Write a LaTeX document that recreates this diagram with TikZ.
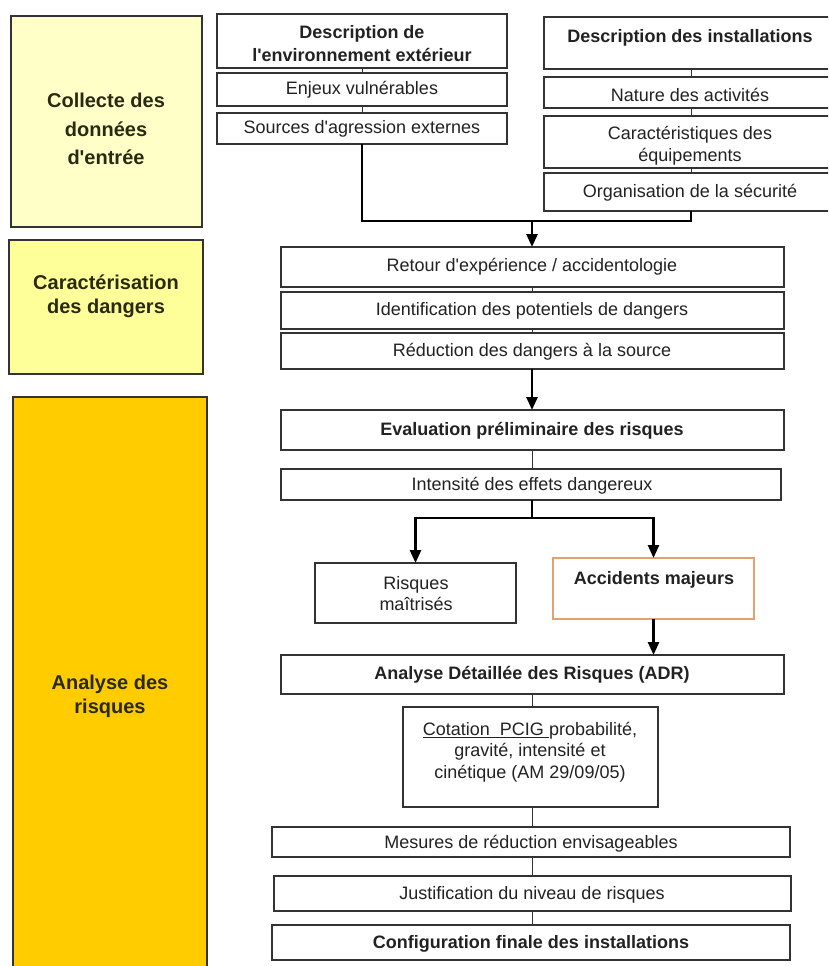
\documentclass[tikz,border=0pt]{standalone}
\usepackage{fontspec}
\setmainfont{Liberation Sans}[Ligatures=TeXOff]
\usetikzlibrary{arrows.meta}
\definecolor{pale}{HTML}{FFFFC8}
\definecolor{yel}{HTML}{FFFF99}
\definecolor{gold}{HTML}{FFCC00}
\definecolor{edge}{HTML}{333333}
\definecolor{orangeedge}{HTML}{E3A071}
\definecolor{ink}{HTML}{222222}
\definecolor{titleink}{HTML}{2A2A12}
\newcommand\mybox[6][]{\node[box,#1,minimum width={#4-#2},minimum height={#5-#3}] (#6) at (#2,#3) {};}
\tikzset{
 box/.style={draw=edge, line width=1.4pt, fill=white, rectangle, inner sep=0pt, outer sep=0pt, anchor=north west},
 txt/.style={inner sep=0pt, align=center, text=ink, font=\fontsize{18}{22}\selectfont},
 btxt/.style={txt, font=\fontsize{18}{23}\selectfont\bfseries},
 ttl/.style={inner sep=0pt, align=center, text=titleink, font=\fontsize{20}{26}\selectfont\bfseries},
 link/.style={draw=edge, line width=1pt},
 flow/.style={draw=black, line width=2.6pt},
 arr/.style={flow, -{Triangle[length=13pt,width=11pt]}},
}
\begin{document}
\begin{tikzpicture}[x=1pt,y=-1pt]
\useasboundingbox (0,0) rectangle (828,966);
\clip (0,0) rectangle (828,966);
% phase boxes
\mybox[fill=pale]{11}{16}{202}{227}{collecte}
\mybox[fill=yel]{9}{240}{203}{374}{caract}
\mybox[fill=gold]{13}{397}{207}{990}{analyse}
\node[ttl, font=\fontsize{20}{28.5}\selectfont\bfseries] (t-collecte) at (106,129) {Collecte des\\données\\d'entrée};
\node[ttl, font=\fontsize{20}{24}\selectfont\bfseries] (t-caract) at (106,296) {Caractérisation\\des dangers};
\node[ttl, font=\fontsize{20}{24}\selectfont\bfseries] (t-analyse) at (110,696) {Analyse des\\risques};
% top left column
\mybox{217}{14}{507}{68}{descenv}
\mybox{217}{73}{507}{106}{enjeux}
\mybox{217}{113}{507}{144}{sources}
\node[btxt, font=\fontsize{18}{23}\selectfont\bfseries] (t-descenv) at (362,44) {Description de\\l'environnement extérieur};
\node[txt] (t-enjeux) at (362,90) {Enjeux vulnérables};
\node[txt] (t-sources) at (362,129) {Sources d'agression externes};
% top right column
\mybox{544}{17}{834}{69}{descinst}
\mybox{544}{77}{834}{108}{nature}
\mybox{544}{116}{834}{168}{equip}
\mybox{544}{173}{834}{211}{orga}
\node[btxt] (t-descinst) at (690,38) {Description des installations};
\node[txt] (t-nature) at (690,95) {Nature des activités};
\node[txt, font=\fontsize{18}{22}\selectfont] (t-equip) at (690,146) {Caractéristiques des\\équipements};
\node[txt] (t-orga) at (690,193) {Organisation de la sécurité};
\draw[link] (descenv.south) -- (enjeux.north);
\draw[link] (enjeux.south) -- (sources.north);
\coordinate (m1) at (362,221);
\coordinate (m2) at (691,221);
\coordinate (mid) at (532,221);
\draw[link] (m2 |- descinst.south) -- (m2 |- nature.north);
\draw[link] (m2 |- nature.south) -- (m2 |- equip.north);
\draw[link] (m2 |- equip.south) -- (m2 |- orga.north);
\draw[flow, line join=miter] (sources.south) -- (m1) -- (m2) -- (m2 |- orga.south);
% middle column
\mybox{281}{247}{784}{287}{retour}
\mybox{281}{292}{784}{329}{ident}
\mybox{281}{333}{784}{369}{reduc}
\node[txt] (t-retour) at (532,267) {Retour d'expérience / accidentologie};
\node[txt] (t-ident) at (532,311) {Identification des potentiels de dangers};
\node[txt] (t-reduc) at (532,352) {Réduction des dangers à la source};
\draw[arr] (mid) -- (mid |- retour.north);
\draw[link] (mid |- retour.south) -- (mid |- ident.north);
\draw[link] (mid |- ident.south) -- (mid |- reduc.north);
\mybox{281}{410}{784}{450}{eval}
\node[btxt] (t-eval) at (532,431) {Evaluation préliminaire des risques};
\draw[arr] (mid |- reduc.south) -- (mid |- eval.north);
\mybox{281}{469}{781}{500}{intens}
\node[txt] (t-intens) at (532,486) {Intensité des effets dangereux};
\draw[link] (mid |- eval.south) -- (mid |- intens.north);
\mybox{315}{563}{516}{623}{risques}
\mybox[draw=orangeedge, line width=1.2pt]{553}{558}{754}{619}{accid}
\node[txt, font=\fontsize{18}{21}\selectfont] (t-risques) at (416,594) {Risques\\maîtrisés};
\node[btxt] (t-accid) at (654,580) {Accidents majeurs};
\coordinate (s0) at (532,518);
\draw[flow] (mid |- intens.south) -- (s0);
\draw[arr, line join=miter] (s0) -| (risques.north);
\draw[arr, line join=miter] (s0) -| (accid.north);
\mybox{281}{655}{784}{694}{adr}
\node[btxt] (t-adr) at (532,675) {Analyse Détaillée des Risques (ADR)};
\draw[arr] (accid.south) -- (accid.south |- adr.north);
\mybox{403}{707}{658}{807}{cotation}
\node[txt, font=\fontsize{18}{21.5}\selectfont] (t-cotation) at (530,752) {\underline{Cotation\ \ PCIG\ }probabilité,\\gravité, intensité et\\cinétique (AM 29/09/05)};
\draw[link] (mid |- adr.south) -- (mid |- cotation.north);
\mybox{272}{827}{790}{857}{mesures}
\mybox{274}{876}{791}{911}{justif}
\mybox{272}{925}{790}{960}{config}
\node[txt] (t-mesures) at (531,844) {Mesures de réduction envisageables};
\node[txt] (t-justif) at (532,895) {Justification du niveau de risques};
\node[btxt] (t-config) at (531,944) {Configuration finale des installations};
\draw[link] (mid |- cotation.south) -- (mid |- mesures.north);
\draw[link] (mid |- mesures.south) -- (mid |- justif.north);
\draw[link] (mid |- justif.south) -- (mid |- config.north);
\end{tikzpicture}
\end{document}
